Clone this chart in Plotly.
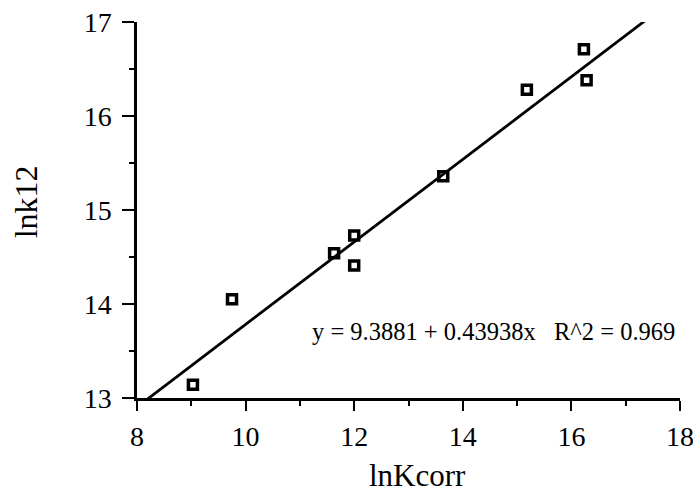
import plotly.graph_objects as go

# Data
ln_kcorr = [9.03, 9.75, 11.63, 12.00, 12.00, 13.64, 15.18, 16.23, 16.28]
ln_k12 = [13.14, 14.05, 14.54, 14.73, 14.41, 15.36, 16.28, 16.71, 16.38]

fit_intercept = 9.3881
fit_slope = 0.43938
fit_r2 = 0.969

x_range = [8, 18]
y_range = [13, 17]
x_ticks = [8, 10, 12, 14, 16, 18]
y_ticks = [13, 14, 15, 16, 17]

FONT = "Liberation Serif"

fit_x = [x_range[0], x_range[1]]
fit_y = [fit_intercept + fit_slope * v for v in fit_x]

fig = go.Figure()
fig.add_trace(go.Scatter(
    x=fit_x, y=fit_y, mode="lines",
    line=dict(color="black", width=2.8),
    showlegend=False, hoverinfo="skip",
))
fig.add_trace(go.Scatter(
    x=ln_kcorr, y=ln_k12, mode="markers",
    marker=dict(symbol="square-open", size=9, color="black",
                line=dict(color="black", width=3.5)),
    showlegend=False,
))

eq_text = ("y = %.4f + %.5fx\u00a0\u00a0\u00a0R^2 = %.3f"
           % (fit_intercept, fit_slope, fit_r2))

fig.update_layout(
    width=693, height=495,
    margin=dict(l=137, r=13, t=22, b=97, autoexpand=False),
    paper_bgcolor="white", plot_bgcolor="white",
    font=dict(family=FONT, color="black", size=28),
    xaxis=dict(
        range=x_range, tickvals=x_ticks, showgrid=False, zeroline=False,
        showline=True, linecolor="black", linewidth=2.5,
        ticks="outside", ticklen=10, tickwidth=2, tickcolor="black",
        minor=dict(ticks="outside", ticklen=5, tickwidth=2, dtick=1,
                   tickcolor="black", showgrid=False),
        tickfont=dict(family=FONT, size=28),
        ticklabelstandoff=2,
        ticklabeloverflow="allow",
        automargin=False,
    ),
    yaxis=dict(
        range=y_range, tickvals=y_ticks, showgrid=False, zeroline=False,
        showline=True, linecolor="black", linewidth=2.5,
        ticks="outside", ticklen=12, tickwidth=2, tickcolor="black",
        minor=dict(ticks="outside", ticklen=5, tickwidth=2, dtick=0.5,
                   tickcolor="black", showgrid=False),
        tickfont=dict(family=FONT, size=28),
        ticklabelstandoff=5,
        ticklabeloverflow="allow",
        automargin=False,
    ),
    annotations=[
        dict(text=eq_text, x=14.56, y=13.71, xref="x", yref="y",
             showarrow=False, xanchor="center", yanchor="middle",
             font=dict(family=FONT, size=24.5)),
        dict(text="lnKcorr", x=0.516, y=-0.205, xref="paper", yref="paper",
             showarrow=False, xanchor="center", yanchor="middle",
             font=dict(family=FONT, size=31)),
        dict(text="lnk12", x=-0.204, y=0.521, xref="paper", yref="paper",
             showarrow=False, xanchor="center", yanchor="middle",
             textangle=-90, font=dict(family=FONT, size=32)),
    ],
)

fig.write_html(
    "out.html",
    config={"displayModeBar": False},
    post_script="document.body.style.margin='0';document.body.style.overflow='hidden';",
)
